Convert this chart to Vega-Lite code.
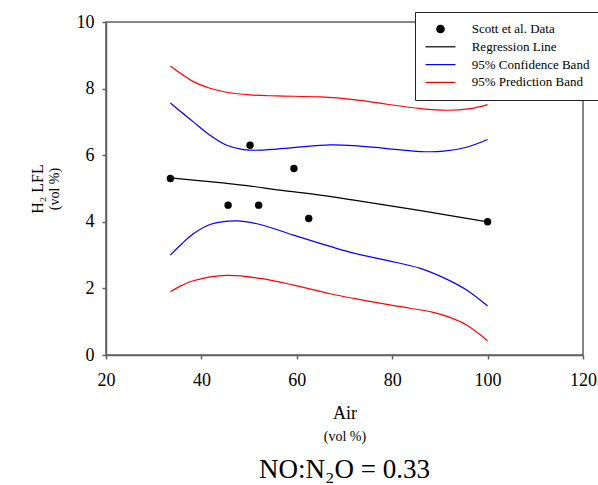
{
  "$schema": "https://vega.github.io/schema/vega-lite/v6.json",
  "width": 477,
  "height": 333,
  "autosize": {"type": "none"},
  "padding": {"left": 106, "top": 22, "right": 15, "bottom": 130},
  "background": "white",
  "title": {
    "text": "NO:N₂O = 0.33",
    "orient": "bottom",
    "anchor": "middle",
    "frame": "group",
    "font": "Liberation Serif, Times New Roman, DejaVu Serif, serif",
    "fontSize": 27,
    "fontWeight": "normal",
    "color": "black",
    "offset": 14
  },
  "data": {
    "values": [
      {"series": "Scott et al. Data", "part": "pt", "x": 33.5, "y": 5.3},
      {"series": "Scott et al. Data", "part": "pt", "x": 45.6, "y": 4.5},
      {"series": "Scott et al. Data", "part": "pt", "x": 50.2, "y": 6.3},
      {"series": "Scott et al. Data", "part": "pt", "x": 52.0, "y": 4.5},
      {"series": "Scott et al. Data", "part": "pt", "x": 59.4, "y": 5.6},
      {"series": "Scott et al. Data", "part": "pt", "x": 62.5, "y": 4.1},
      {"series": "Scott et al. Data", "part": "pt", "x": 100, "y": 4.0},

      {"series": "Regression Line", "part": "mid", "x": 33.5, "y": 5.32},
      {"series": "Regression Line", "part": "mid", "x": 40, "y": 5.23},
      {"series": "Regression Line", "part": "mid", "x": 45, "y": 5.16},
      {"series": "Regression Line", "part": "mid", "x": 50, "y": 5.08},
      {"series": "Regression Line", "part": "mid", "x": 56.5, "y": 4.95},
      {"series": "Regression Line", "part": "mid", "x": 64.9, "y": 4.8},
      {"series": "Regression Line", "part": "mid", "x": 72, "y": 4.65},
      {"series": "Regression Line", "part": "mid", "x": 80, "y": 4.47},
      {"series": "Regression Line", "part": "mid", "x": 90, "y": 4.24},
      {"series": "Regression Line", "part": "mid", "x": 100, "y": 4.0},

      {"series": "95% Confidence Band", "part": "upper", "x": 33.5, "y": 7.57},
      {"series": "95% Confidence Band", "part": "upper", "x": 35.9, "y": 7.28},
      {"series": "95% Confidence Band", "part": "upper", "x": 38.3, "y": 7.0},
      {"series": "95% Confidence Band", "part": "upper", "x": 41.8, "y": 6.6},
      {"series": "95% Confidence Band", "part": "upper", "x": 45.3, "y": 6.3},
      {"series": "95% Confidence Band", "part": "upper", "x": 48.8, "y": 6.17},
      {"series": "95% Confidence Band", "part": "upper", "x": 52.3, "y": 6.15},
      {"series": "95% Confidence Band", "part": "upper", "x": 59.3, "y": 6.23},
      {"series": "95% Confidence Band", "part": "upper", "x": 67.0, "y": 6.31},
      {"series": "95% Confidence Band", "part": "upper", "x": 71.9, "y": 6.29},
      {"series": "95% Confidence Band", "part": "upper", "x": 78.9, "y": 6.2},
      {"series": "95% Confidence Band", "part": "upper", "x": 85.9, "y": 6.11},
      {"series": "95% Confidence Band", "part": "upper", "x": 90.8, "y": 6.12},
      {"series": "95% Confidence Band", "part": "upper", "x": 95.6, "y": 6.24},
      {"series": "95% Confidence Band", "part": "upper", "x": 100, "y": 6.47},

      {"series": "95% Confidence Band", "part": "lower", "x": 33.5, "y": 3.0},
      {"series": "95% Confidence Band", "part": "lower", "x": 35.9, "y": 3.34},
      {"series": "95% Confidence Band", "part": "lower", "x": 38.3, "y": 3.64},
      {"series": "95% Confidence Band", "part": "lower", "x": 41.8, "y": 3.92},
      {"series": "95% Confidence Band", "part": "lower", "x": 47.4, "y": 4.03},
      {"series": "95% Confidence Band", "part": "lower", "x": 52.3, "y": 3.92},
      {"series": "95% Confidence Band", "part": "lower", "x": 59.3, "y": 3.6},
      {"series": "95% Confidence Band", "part": "lower", "x": 67.0, "y": 3.26},
      {"series": "95% Confidence Band", "part": "lower", "x": 71.9, "y": 3.06},
      {"series": "95% Confidence Band", "part": "lower", "x": 78.9, "y": 2.84},
      {"series": "95% Confidence Band", "part": "lower", "x": 85.9, "y": 2.6},
      {"series": "95% Confidence Band", "part": "lower", "x": 91.5, "y": 2.27},
      {"series": "95% Confidence Band", "part": "lower", "x": 95.6, "y": 1.95},
      {"series": "95% Confidence Band", "part": "lower", "x": 100, "y": 1.47},

      {"series": "95% Prediction Band", "part": "upper", "x": 33.5, "y": 8.68},
      {"series": "95% Prediction Band", "part": "upper", "x": 35.9, "y": 8.43},
      {"series": "95% Prediction Band", "part": "upper", "x": 38.3, "y": 8.21},
      {"series": "95% Prediction Band", "part": "upper", "x": 41.8, "y": 8.01},
      {"series": "95% Prediction Band", "part": "upper", "x": 45.3, "y": 7.89},
      {"series": "95% Prediction Band", "part": "upper", "x": 50.2, "y": 7.81},
      {"series": "95% Prediction Band", "part": "upper", "x": 55.8, "y": 7.78},
      {"series": "95% Prediction Band", "part": "upper", "x": 64.9, "y": 7.75},
      {"series": "95% Prediction Band", "part": "upper", "x": 71.9, "y": 7.67},
      {"series": "95% Prediction Band", "part": "upper", "x": 78.9, "y": 7.53},
      {"series": "95% Prediction Band", "part": "upper", "x": 85.9, "y": 7.4},
      {"series": "95% Prediction Band", "part": "upper", "x": 91.5, "y": 7.35},
      {"series": "95% Prediction Band", "part": "upper", "x": 96.4, "y": 7.4},
      {"series": "95% Prediction Band", "part": "upper", "x": 100, "y": 7.52},

      {"series": "95% Prediction Band", "part": "lower", "x": 33.5, "y": 1.9},
      {"series": "95% Prediction Band", "part": "lower", "x": 35.9, "y": 2.09},
      {"series": "95% Prediction Band", "part": "lower", "x": 38.3, "y": 2.23},
      {"series": "95% Prediction Band", "part": "lower", "x": 45.3, "y": 2.39},
      {"series": "95% Prediction Band", "part": "lower", "x": 52.3, "y": 2.3},
      {"series": "95% Prediction Band", "part": "lower", "x": 59.3, "y": 2.1},
      {"series": "95% Prediction Band", "part": "lower", "x": 67.0, "y": 1.84},
      {"series": "95% Prediction Band", "part": "lower", "x": 71.9, "y": 1.7},
      {"series": "95% Prediction Band", "part": "lower", "x": 78.9, "y": 1.52},
      {"series": "95% Prediction Band", "part": "lower", "x": 81.7, "y": 1.45},
      {"series": "95% Prediction Band", "part": "lower", "x": 88.6, "y": 1.28},
      {"series": "95% Prediction Band", "part": "lower", "x": 92.1, "y": 1.13},
      {"series": "95% Prediction Band", "part": "lower", "x": 95.6, "y": 0.9},
      {"series": "95% Prediction Band", "part": "lower", "x": 100, "y": 0.43}
    ]
  },
  "layer": [
    {
      "transform": [{"filter": "datum.series !== 'Scott et al. Data'"}],
      "mark": {"type": "line", "interpolate": "catmull-rom", "strokeWidth": 1.2},
      "encoding": {
        "x": {
          "field": "x", "type": "quantitative",
          "scale": {"domain": [20, 120], "nice": false, "zero": false},
          "axis": {
            "title": "Air", "values": [20, 40, 60, 80, 100, 120],
            "titleFontSize": 18, "titlePadding": 15,
            "labelFontSize": 18, "labelPadding": 12, "labelFlush": false,
            "minExtent": 0
          }
        },
        "y": {
          "field": "y", "type": "quantitative",
          "scale": {"domain": [0, 10], "nice": false, "zero": false},
          "axis": {
            "title": "H₂ LFL", "values": [0, 2, 4, 6, 8, 10],
            "titleFontSize": 16, "titlePadding": 31,
            "labelFontSize": 18, "labelPadding": 8, "labelFlush": false,
            "minExtent": 0
          }
        },
        "color": {
          "field": "series", "type": "nominal",
          "scale": {
            "domain": ["Scott et al. Data", "Regression Line", "95% Confidence Band", "95% Prediction Band"],
            "range": ["black", "black", "#0000ff", "#ff0000"]
          },
          "legend": {
            "orient": "none", "legendX": 309, "legendY": -10,
            "title": null, "padding": 10.5,
            "fillColor": "white", "strokeColor": "#222",
            "symbolType": "stroke", "symbolSize": 100, "symbolOffset": 8.5, "symbolStrokeWidth": 1.2, "symbolOpacity": 1,
            "labelFont": "Liberation Serif, Times New Roman, DejaVu Serif, serif", "labelFontSize": 13, "labelColor": "black",
            "labelOffset": 24.7, "rowPadding": 3.8, "labelLimit": 300,
            "encode": {
              "symbols": {
                "update": {
                  "shape": {"signal": "datum.value === 'Scott et al. Data' ? 'circle' : 'M-3,0H3'"},
                  "size": {"signal": "datum.value === 'Scott et al. Data' ? 55 : 100"},
                  "fill": {"signal": "datum.value === 'Scott et al. Data' ? 'black' : 'transparent'"},
                  "stroke": {"signal": "datum.value === '95% Confidence Band' ? '#0000ff' : (datum.value === '95% Prediction Band' ? '#ff0000' : 'black')"}
                }
              }
            }
          }
        },
        "detail": {"field": "part"}
      }
    },
    {
      "transform": [{"filter": "datum.series === 'Scott et al. Data'"}],
      "mark": {"type": "circle", "size": 55, "opacity": 1},
      "encoding": {
        "x": {
          "field": "x", "type": "quantitative",
          "axis": {
            "title": "(vol %)", "orient": "bottom", "labels": false, "ticks": false, "domain": false, "grid": false,
            "titleFontSize": 14, "titlePadding": 74, "minExtent": 0
          }
        },
        "y": {
          "field": "y", "type": "quantitative",
          "axis": {
            "title": "(vol %)", "orient": "left", "labels": false, "ticks": false, "domain": false, "grid": false,
            "titleFontSize": 14, "titlePadding": 45, "minExtent": 0
          }
        },
        "color": {"field": "series", "type": "nominal"}
      }
    }
  ],
  "resolve": {"axis": {"x": "independent", "y": "independent"}},
  "config": {
    "font": "Liberation Serif, Times New Roman, DejaVu Serif, serif",
    "view": {"stroke": "#606060", "strokeWidth": 1.5},
    "axis": {
      "grid": false,
      "domainColor": "#606060", "domainWidth": 1.5,
      "tickColor": "#606060", "tickWidth": 1.5, "tickSize": 4,
      "labelColor": "black", "titleColor": "black",
      "labelFont": "Liberation Serif, Times New Roman, DejaVu Serif, serif",
      "titleFont": "Liberation Serif, Times New Roman, DejaVu Serif, serif",
      "titleFontWeight": "normal"
    }
  }
}
